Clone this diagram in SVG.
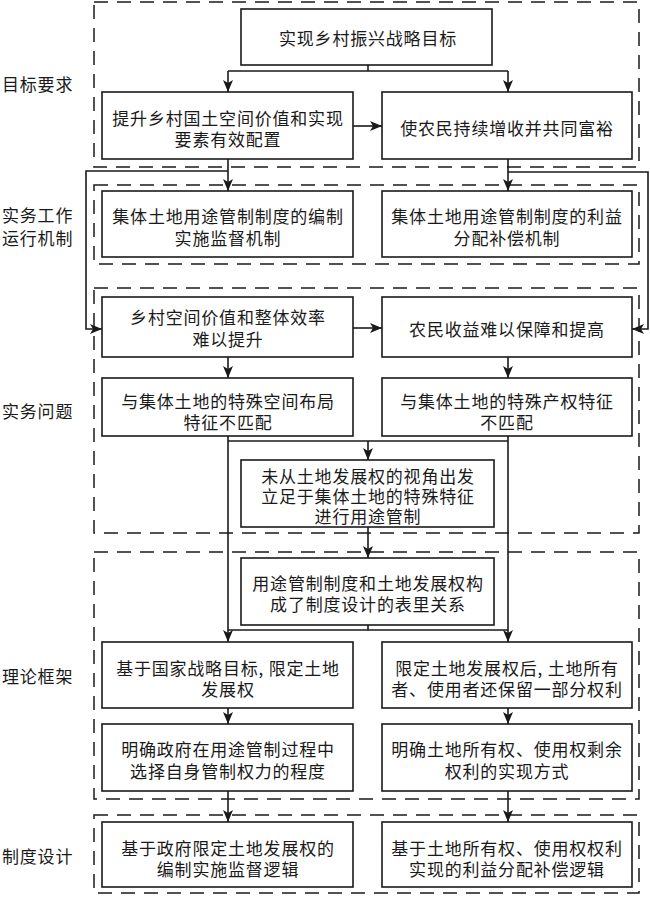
<svg xmlns="http://www.w3.org/2000/svg" width="650" height="898" viewBox="0 0 650 898">
<defs>
<style>
.box{fill:#fff;stroke:#1a1a1a;stroke-width:1.6}
.grp{fill:none;stroke:#1a1a1a;stroke-width:1.5;stroke-dasharray:14 9}
.ln{fill:none;stroke:#1a1a1a;stroke-width:1.6}
text{font-family:"Noto Sans CJK SC","Noto Sans",sans-serif;font-size:17px;fill:#1a1a1a;text-anchor:middle;dominant-baseline:central;letter-spacing:0.8px}
.lab{text-anchor:start}
</style>
<marker id="ah" viewBox="0 0 12 10" refX="12" refY="5" markerWidth="12" markerHeight="10" markerUnits="userSpaceOnUse" orient="auto">
<path d="M0,0 L12,5 L0,10 L3,5 z" fill="#1a1a1a"/>
</marker>
</defs>
<rect width="650" height="898" fill="#fff"/>

<g id="groups">
<rect class="grp" x="94" y="2" width="545" height="165"/>
<rect class="grp" x="94" y="185" width="545" height="79"/>
<rect class="grp" x="94" y="288" width="545" height="245"/>
<rect class="grp" x="94" y="552" width="545" height="247"/>
<rect class="grp" x="94" y="815" width="545" height="78"/>
</g>

<g id="labels">
<text class="lab" x="2" y="83">目标要求</text>
<text class="lab" x="2" y="214">实务工作</text>
<text class="lab" x="2" y="237">运行机制</text>
<text class="lab" x="2" y="410">实务问题</text>
<text class="lab" x="2" y="675">理论框架</text>
<text class="lab" x="2" y="855">制度设计</text>
</g>

<g id="connectors">
<path class="ln" d="M368,65 V71 M228,71 H508"/>
<path class="ln" d="M228,71 V92" marker-end="url(#ah)"/>
<path class="ln" d="M508,71 V92" marker-end="url(#ah)"/>
<path class="ln" d="M353,126 H382" marker-end="url(#ah)"/>
<path class="ln" d="M228,159 V191" marker-end="url(#ah)"/>
<path class="ln" d="M508,159 V191" marker-end="url(#ah)"/>
<path class="ln" d="M228,171 H86 V329 H102" marker-end="url(#ah)"/>
<path class="ln" d="M508,172 H648 V329 H632" marker-end="url(#ah)"/>
<path class="ln" d="M353,328 H382" marker-end="url(#ah)"/>
<path class="ln" d="M228,357 V378" marker-end="url(#ah)"/>
<path class="ln" d="M508,357 V378" marker-end="url(#ah)"/>
<path class="ln" d="M228,436 V642" marker-end="url(#ah)"/>
<path class="ln" d="M508,436 V642" marker-end="url(#ah)"/>
<path class="ln" d="M228,441 H508"/>
<path class="ln" d="M368,441 V460" marker-end="url(#ah)"/>
<path class="ln" d="M368,527 V558" marker-end="url(#ah)"/>
<path class="ln" d="M368,625 V630 M228,630 H508"/>
<path class="ln" d="M228,708 V724" marker-end="url(#ah)"/>
<path class="ln" d="M508,708 V724" marker-end="url(#ah)"/>
<path class="ln" d="M228,791 V822" marker-end="url(#ah)"/>
<path class="ln" d="M508,791 V822" marker-end="url(#ah)"/>
</g>

<g id="n1"><rect class="box" x="241" y="9" width="251" height="56"/><text x="368" y="37">实现乡村振兴战略目标</text></g>
<g id="n2"><rect class="box" x="102" y="92" width="251" height="67"/><text x="228" y="117">提升乡村国土空间价值和实现</text><text x="228" y="138">要素有效配置</text></g>
<g id="n3"><rect class="box" x="382" y="92" width="250" height="67"/><text x="507" y="127">使农民持续增收并共同富裕</text></g>
<g id="n4"><rect class="box" x="102" y="191" width="251" height="66"/><text x="228" y="215">集体土地用途管制制度的编制</text><text x="228" y="237">实施监督机制</text></g>
<g id="n5"><rect class="box" x="382" y="191" width="250" height="66"/><text x="507" y="215">集体土地用途管制制度的利益</text><text x="507" y="237">分配补偿机制</text></g>
<g id="n6"><rect class="box" x="102" y="297" width="251" height="60"/><text x="228" y="316">乡村空间价值和整体效率</text><text x="228" y="338">难以提升</text></g>
<g id="n7"><rect class="box" x="382" y="297" width="250" height="60"/><text x="507" y="328">农民收益难以保障和提高</text></g>
<g id="n8"><rect class="box" x="102" y="378" width="251" height="58"/><text x="228" y="400">与集体土地的特殊空间布局</text><text x="228" y="421">特征不匹配</text></g>
<g id="n9"><rect class="box" x="382" y="378" width="250" height="58"/><text x="507" y="400">与集体土地的特殊产权特征</text><text x="507" y="421">不匹配</text></g>
<g id="n10"><rect class="box" x="241" y="460" width="253" height="67"/><text x="368" y="475">未从土地发展权的视角出发</text><text x="368" y="495">立足于集体土地的特殊特征</text><text x="368" y="515">进行用途管制</text></g>
<g id="n11"><rect class="box" x="241" y="558" width="253" height="67"/><text x="368" y="582">用途管制制度和土地发展权构</text><text x="368" y="603">成了制度设计的表里关系</text></g>
<g id="n12"><rect class="box" x="102" y="642" width="251" height="66"/><text x="228" y="667">基于国家战略目标, 限定土地</text><text x="228" y="688">发展权</text></g>
<g id="n13"><rect class="box" x="382" y="642" width="250" height="66"/><text x="507" y="667">限定土地发展权后, 土地所有</text><text x="507" y="688">者、使用者还保留一部分权利</text></g>
<g id="n14"><rect class="box" x="102" y="724" width="251" height="67"/><text x="228" y="748">明确政府在用途管制过程中</text><text x="228" y="770">选择自身管制权力的程度</text></g>
<g id="n15"><rect class="box" x="382" y="724" width="250" height="67"/><text x="507" y="748">明确土地所有权、使用权剩余</text><text x="507" y="770">权利的实现方式</text></g>
<g id="n16"><rect class="box" x="102" y="822" width="251" height="65"/><text x="228" y="847">基于政府限定土地发展权的</text><text x="228" y="868">编制实施监督逻辑</text></g>
<g id="n17"><rect class="box" x="382" y="822" width="250" height="65"/><text x="507" y="847">基于土地所有权、使用权权利</text><text x="507" y="868">实现的利益分配补偿逻辑</text></g>
</svg>
